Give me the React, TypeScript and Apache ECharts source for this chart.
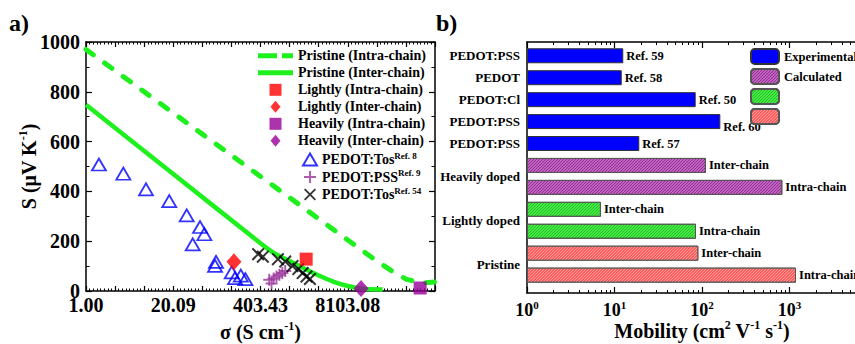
import React, { useEffect, useRef } from 'react';
import * as echarts from 'echarts';

const FONT = 'Liberation Serif';

// ---------- Panel a data (sigma in S/cm, S in µV/K) ----------
const pristineIntraSigma = [1, 7.39, 54.6, 403, 2981, 8103, 22026, 36316, 59874, 98716, 162755];
const pristineIntraS = [970, 800, 630, 460, 290, 205, 120, 82, 48, 32, 36];
const pristineInterSigma = [1, 20.1, 403, 665, 1097, 1808, 2981, 4915, 8103, 13360, 26900];
const pristineInterS = [748, 470, 192, 150, 120, 90, 62, 38, 20, 9, 6];
const lightlyIntraSigma = [1940];
const lightlyIntraS = [128];
const lightlyInterSigma = [162];
const lightlyInterS = [117];
const heavilyIntraSigma = [97600];
const heavilyIntraS = [12];
const heavilyInterSigma = [12800];
const heavilyInterS = [10];
const tos8Sigma = [1.56, 3.61, 7.87, 17.5, 31.9, 50.4, 58.5, 39.2, 87.4, 84.5, 150, 168, 205, 240];
const tos8S = [508, 471, 408, 361, 304, 257, 228, 187, 117, 101, 75, 52, 62, 48];
const pss9Sigma = [545, 590, 633, 700, 773, 854, 944];
const pss9S = [45, 30, 50, 58, 65, 72, 80];
const tos54Sigma = [372, 437, 735, 944, 1212, 1480, 1720, 1960, 2208];
const tos54S = [148, 138, 128, 118, 100, 88, 72, 58, 48];

const sTicksMax = 1000;
const lnMax = 12;

// ---------- Panel b data (mobility, cm2/Vs) ----------
const barIds = ['exp59', 'exp58', 'exp50', 'exp60', 'exp57', 'hInter', 'hIntra', 'lInter', 'lIntra', 'pInter', 'pIntra'];
const barAxisLabels = ['PEDOT:PSS', 'PEDOT', 'PEDOT:Cl', 'PEDOT:PSS', 'PEDOT:PSS', 'Heavily doped', '', 'Lightly doped', '', 'Pristine', ''];
const barMobility = [12.6, 12.1, 84.7, 162, 19.2, 111, 828, 7.0, 85.4, 90.8, 1187];
const barNotes = ['Ref. 59', 'Ref. 58', 'Ref. 50', 'Ref. 60', 'Ref. 57', 'Inter-chain', 'Intra-chain', 'Inter-chain', 'Intra-chain', 'Inter-chain', 'Intra-chain'];
const barGroup = ['Experimental', 'Experimental', 'Experimental', 'Experimental', 'Experimental', 'Calculated', 'Calculated', '_green', '_green', '_red', '_red'];

const GREEN = '#1EF01E';
const black = '#000';

const ICON_DASH = 'path://M0,0H19V5H0Z M24,0H35V5H24Z';
const ICON_SOLID = 'path://M0,0H35V5H0Z';
const ICON_SQUARE = 'path://M0,0H10V10H0Z';
const ICON_DIAMOND = 'path://M5,0L10,6L5,12L0,6Z';
// one tile of "/" hatching (tiles seamlessly)
const HATCH_TILE = 'path://M0,3L3,0L4,0L4,1L1,4L0,4Z M0,0L1,0L0,1Z M4,3L4,4L3,4Z';

const toLn = (xs: number[], ys: number[]) => xs.map((x, i) => [Math.log(x), ys[i]]);

const txt = (size: number, extra: any = {}) => ({ fontFamily: FONT, fontWeight: 'bold', fontSize: size, color: black, ...extra });

const supRich = (size: number, supSize: number, lh: number) => ({
  t: txt(size, { lineHeight: lh }),
  s: txt(supSize, { lineHeight: supSize + 1, verticalAlign: 'top' }),
});

const axisLine = { show: true, onZero: false, lineStyle: { color: black, width: 1.5 } };
const tickIn = (len: number) => ({ show: true, inside: true, length: len, lineStyle: { color: black, width: 1.2 } });
const minorIn = (n: number, len: number) => ({ show: true, splitNumber: n, length: len, lineStyle: { color: black, width: 1 } });

const hatch = (c: string) => ({
  symbol: HATCH_TILE,
  symbolSize: 1,
  symbolKeepAspect: false,
  color: c,
  dashArrayX: [3, 0],
  dashArrayY: [3, 0],
  rotation: 0,
});

const groupStyle: Record<string, any> = {
  Experimental: { color: '#0000FF', borderColor: '#333', borderWidth: 1 },
  Calculated: { color: '#D877D8', borderColor: '#555', borderWidth: 1, decal: hatch('rgba(120,25,120,0.8)') },
  _green: { color: '#50FF50', borderColor: '#555', borderWidth: 1, decal: hatch('rgba(20,160,20,0.75)') },
  _red: { color: '#FF4040', borderColor: '#555', borderWidth: 1, decal: hatch('rgba(255,190,190,0.8)') },
};

function buildOption(): any {
  const logLabel = (v: number) => {
    const e = Math.round(Math.log10(v));
    return e >= 4 ? '' : `{b|10}{s|${e}}`;
  };
  const barSeries = ['Experimental', 'Calculated', '_green', '_red'].map((g) => ({
    name: g,
    type: 'bar',
    xAxisIndex: 4,
    yAxisIndex: 3,
    barWidth: 15,
    barGap: '-100%',
    itemStyle: groupStyle[g],
    label: {
      show: true,
      position: 'right',
      distance: 3,
      formatter: (p: any) => barNotes[p.dataIndex],
      ...txt(12.5),
    },
    data: barMobility.map((v, i) =>
      barGroup[i] === g ? (barNotes[i] === 'Ref. 60' ? { value: v, label: { offset: [0, 5] } } : v) : '-'
    ),
    z: 3,
  }));

  return {
    animation: false,
    backgroundColor: '#fff',
    title: [
      { text: 'a)', left: 9, top: 11, padding: 0, textStyle: txt(24) },
      { text: 'b)', left: 436, top: 11, padding: 0, textStyle: txt(24) },
    ],
    grid: [
      { left: 86, top: 42, width: 349, height: 249, outerBoundsMode: 'none', containLabel: false },
      { left: 527, top: 42, width: 350, height: 251, outerBoundsMode: 'none', containLabel: false },
      { left: 527, top: 44.8, width: 350, height: 241.3, outerBoundsMode: 'none', containLabel: false },
    ],
    legend: [
      {
        data: [
          { name: 'Pristine (Intra-chain)', icon: ICON_DASH },
          { name: 'Pristine (Inter-chain)', icon: ICON_SOLID },
          { name: 'Lightly (Intra-chain)', icon: ICON_SQUARE },
          { name: 'Lightly (Inter-chain)', icon: ICON_DIAMOND },
          { name: 'Heavily (Intra-chain)', icon: ICON_SQUARE },
          { name: 'Heavily (Inter-chain)', icon: ICON_DIAMOND },
        ],
        orient: 'vertical',
        left: 258,
        top: 48.8,
        padding: 0,
        itemWidth: 35,
        itemHeight: 12,
        itemGap: 3,
        selectedMode: false,
        textStyle: txt(14, { lineHeight: 14 }),
      },
      {
        data: ['PEDOT:Tos Ref. 8', 'PEDOT:PSS Ref. 9', 'PEDOT:Tos Ref. 54'],
        orient: 'vertical',
        left: 302,
        top: 151,
        padding: 0,
        itemWidth: 14,
        itemHeight: 12,
        itemGap: 2,
        selectedMode: false,
        formatter: (n: string) => {
          const k = n.indexOf(' Ref.');
          return `{t|${n.slice(0, k)}}{s|${n.slice(k + 1)}}`;
        },
        textStyle: { ...txt(14), rich: supRich(14, 9, 17) },
      },
      {
        data: ['Experimental', 'Calculated', '_green', '_red'],
        orient: 'vertical',
        left: 750,
        top: 48,
        padding: 0,
        itemWidth: 28,
        itemHeight: 15,
        itemGap: 3,
        selectedMode: false,
        formatter: (n: string) => (n.startsWith('_') ? '' : n),
        textStyle: txt(12.5, { lineHeight: 15 }),
      },
    ],
    xAxis: [
      {
        gridIndex: 0,
        type: 'value',
        position: 'bottom',
        min: 0,
        max: lnMax,
        interval: 1,
        axisLine,
        axisTick: tickIn(5),
        minorTick: minorIn(8, 2.5),
        splitLine: { show: false },
        axisLabel: {
          margin: 4,
          showMinLabel: true,
          formatter: (v: number) => (Math.round(v) % 3 === 0 && v < lnMax ? Math.exp(v).toFixed(2) : ''),
          ...txt(20),
        },
        name: '{t|σ (S cm}{s|-1}{t|)}',
        nameLocation: 'middle',
        nameGap: 29,
        nameMoveOverlap: false,
        nameTextStyle: { rich: supRich(20, 12, 24) },
      },
      {
        gridIndex: 0,
        type: 'value',
        position: 'top',
        min: 0,
        max: lnMax,
        interval: 1,
        axisLine,
        axisTick: tickIn(5),
        minorTick: minorIn(8, 2.5),
        splitLine: { show: false },
        axisLabel: { show: false },
      },
      {
        gridIndex: 1,
        type: 'log',
        logBase: 10,
        position: 'bottom',
        min: 1,
        max: 10000,
        axisLine,
        axisTick: tickIn(6),
        minorTick: minorIn(9, 3),
        splitLine: { show: false },
        axisLabel: {
          margin: 6,
          formatter: logLabel,
          rich: { b: txt(18, { lineHeight: 22 }), s: txt(11, { lineHeight: 12, verticalAlign: 'top' }) },
        },
        name: '{t|Mobility (cm}{s|2}{t| V}{s|-1}{t| s}{s|-1}{t|)}',
        nameLocation: 'middle',
        nameGap: 26,
        nameMoveOverlap: false,
        nameTextStyle: { rich: supRich(20, 12, 24) },
      },
      {
        gridIndex: 1,
        type: 'log',
        logBase: 10,
        position: 'top',
        min: 1,
        max: 10000,
        axisLine,
        axisTick: tickIn(6),
        minorTick: minorIn(9, 3),
        splitLine: { show: false },
        axisLabel: { show: false },
      },
      {
        gridIndex: 2,
        type: 'log',
        logBase: 10,
        min: 1,
        max: 10000,
        show: false,
      },
    ],
    yAxis: [
      {
        gridIndex: 0,
        type: 'value',
        position: 'left',
        min: 0,
        max: sTicksMax,
        interval: 200,
        axisLine,
        axisTick: tickIn(6),
        minorTick: minorIn(2, 3.5),
        splitLine: { show: false },
        axisLabel: { margin: 6, formatter: (v: number) => String(v), ...txt(20) },
        name: '{t|S (μV K}{s|-1}{t|)}',
        nameLocation: 'middle',
        nameRotate: 90,
        nameGap: 45,
        nameMoveOverlap: false,
        nameTextStyle: { rich: supRich(20, 12, 24) },
      },
      {
        gridIndex: 0,
        type: 'value',
        position: 'right',
        min: 0,
        max: sTicksMax,
        interval: 200,
        axisLine,
        axisTick: tickIn(6),
        minorTick: minorIn(2, 3.5),
        splitLine: { show: false },
        axisLabel: { show: false },
      },
      {
        gridIndex: 1,
        type: 'value',
        position: 'left',
        min: 0,
        max: 1,
        axisLine,
        axisTick: { show: false },
        splitLine: { show: false },
        axisLabel: { show: false },
      },
      {
        gridIndex: 2,
        type: 'category',
        inverse: true,
        data: barIds,
        axisLine: { show: false },
        axisTick: { show: false },
        splitLine: { show: false },
        axisLabel: {
          margin: 7,
          interval: 0,
          formatter: (_v: string, i: number) => {
            const l = barAxisLabels[i];
            if (!l) return '';
            const grouped = barAxisLabels[i + 1] === '' && i >= 5;
            return grouped ? `{g|${l}}` : `{c|${l}}`;
          },
          rich: {
            c: txt(13, { lineHeight: 14 }),
            g: txt(13, { lineHeight: 14, padding: [22, 0, 0, 0] }),
          },
        },
      },
    ],
    series: [
      {
        name: 'Pristine (Intra-chain)',
        type: 'line',
        xAxisIndex: 0,
        yAxisIndex: 0,
        symbol: 'none',
        showSymbol: false,
        color: GREEN,
        lineStyle: { color: GREEN, width: 5, type: [9, 14], cap: 'round' },
        data: toLn(pristineIntraSigma, pristineIntraS),
        z: 2,
      },
      {
        name: 'Pristine (Inter-chain)',
        type: 'line',
        xAxisIndex: 0,
        yAxisIndex: 0,
        symbol: 'none',
        showSymbol: false,
        smooth: 0.2,
        color: GREEN,
        lineStyle: { color: GREEN, width: 4.5 },
        data: toLn(pristineInterSigma, pristineInterS),
        z: 2,
      },
      {
        name: 'Lightly (Intra-chain)',
        type: 'scatter',
        symbol: 'rect',
        symbolSize: 13,
        itemStyle: { color: '#FF0000' },
        data: toLn(lightlyIntraSigma, lightlyIntraS),
        z: 5,
      },
      {
        name: 'Lightly (Inter-chain)',
        type: 'scatter',
        symbol: 'diamond',
        symbolSize: [15, 17],
        itemStyle: { color: '#FF0000' },
        data: toLn(lightlyInterSigma, lightlyInterS),
        z: 5,
      },
      {
        name: 'Heavily (Intra-chain)',
        type: 'scatter',
        symbol: 'rect',
        symbolSize: 13,
        itemStyle: { color: '#990099' },
        data: toLn(heavilyIntraSigma, heavilyIntraS),
        z: 5,
      },
      {
        name: 'Heavily (Inter-chain)',
        type: 'scatter',
        symbol: 'diamond',
        symbolSize: [15, 17],
        itemStyle: { color: '#990099' },
        data: toLn(heavilyInterSigma, heavilyInterS),
        z: 5,
      },
      {
        name: 'PEDOT:Tos Ref. 8',
        type: 'scatter',
        symbol: 'triangle',
        symbolSize: [14, 12],
        itemStyle: { color: 'rgba(255,255,255,0)', borderColor: '#0000FF', borderWidth: 1.8 },
        data: toLn(tos8Sigma, tos8S),
        z: 4,
      },
      {
        name: 'PEDOT:PSS Ref. 9',
        type: 'scatter',
        symbol: 'path://M4.2,0H5.8V4.2H10V5.8H5.8V10H4.2V5.8H0V4.2H4.2Z',
        symbolSize: 12,
        itemStyle: { color: '#993399' },
        data: toLn(pss9Sigma, pss9S),
        z: 4,
      },
      {
        name: 'PEDOT:Tos Ref. 54',
        type: 'scatter',
        symbol: 'path://M0,1.1L1.1,0L5,3.9L8.9,0L10,1.1L6.1,5L10,8.9L8.9,10L5,6.1L1.1,10L0,8.9L3.9,5Z',
        symbolSize: 13,
        itemStyle: { color: '#000' },
        data: toLn(tos54Sigma, tos54S),
        z: 4,
      },
      ...barSeries,
    ],
  };
}

export default function App() {
  const ref = useRef<HTMLDivElement>(null);
  useEffect(() => {
    if (!ref.current) return;
    const chart = echarts.init(ref.current, undefined, { renderer: 'svg' });
    chart.setOption(buildOption());
    return () => chart.dispose();
  }, []);
  return (
    <div
      ref={ref}
      style={{ position: 'absolute', left: 0, top: 0, width: 855, height: 344, background: '#fff' }}
    />
  );
}
